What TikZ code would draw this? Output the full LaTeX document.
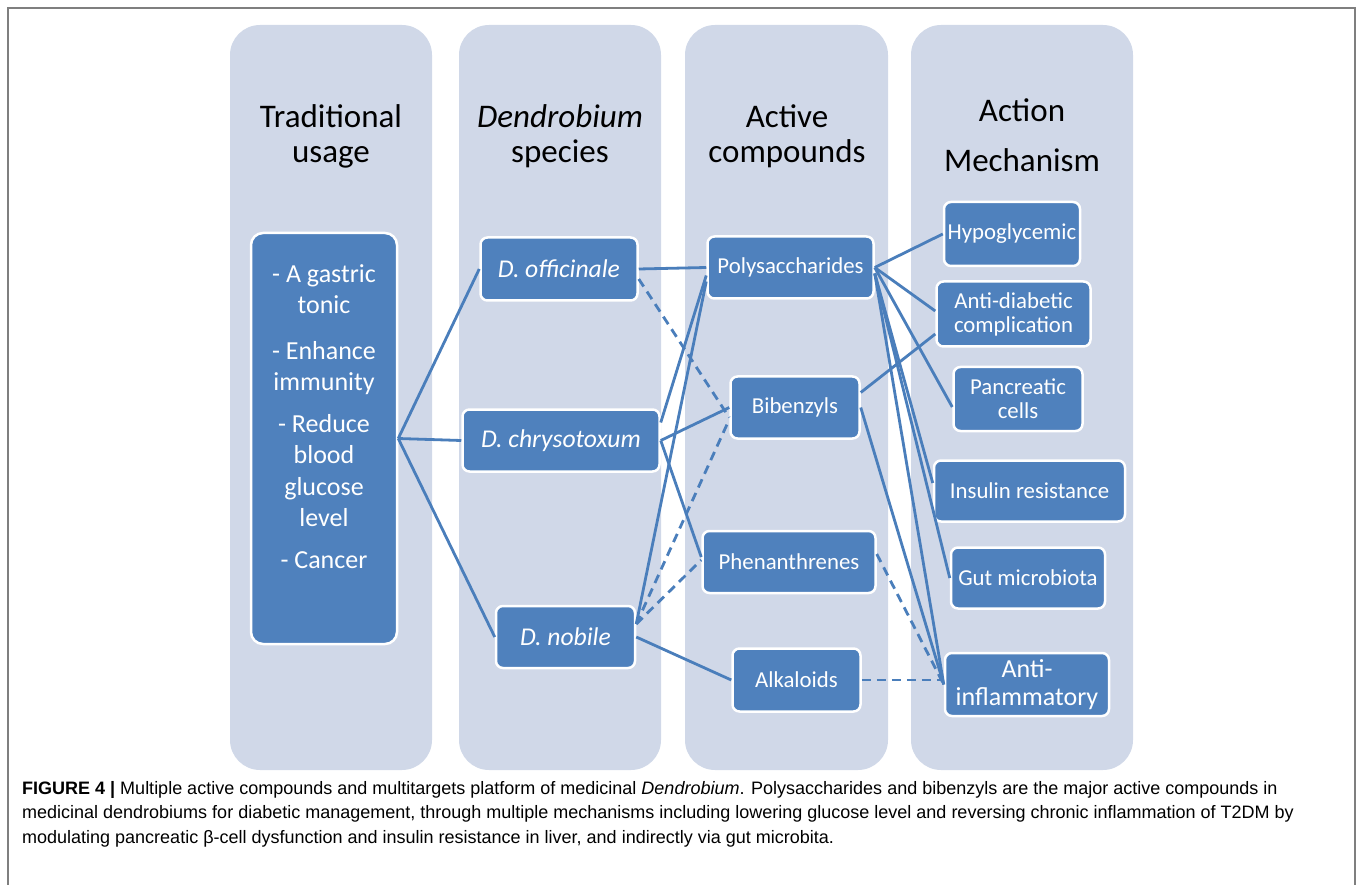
\documentclass[tikz,border=0pt]{standalone}
\usepackage{fontspec}
\setmainfont{Carlito}
\newfontfamily\capfont{Liberation Sans}
\usetikzlibrary{positioning}
\definecolor{lanegray}{HTML}{D0D8E8}
\definecolor{boxblue}{HTML}{4F81BD}
\definecolor{linkblue}{HTML}{4A7EBB}
\definecolor{framegray}{HTML}{7F7F7F}

\begin{document}
\begin{tikzpicture}[x=1pt, y=-1pt,
  lane/.style={fill=lanegray, rounded corners=30pt},
  head/.style={font=\fontsize{33}{36}\selectfont, anchor=base, inner sep=0pt},
  blk/.style={fill=boxblue, draw=white, line width=2.5pt, rounded corners=7pt,
    text=white, align=center, inner sep=0pt, font=\fontsize{22.8}{24}\selectfont},
  spc/.style={blk, font=\fontsize{25.6}{27}\selectfont\itshape},
  link/.style={draw=linkblue, line width=2.8pt},
  dlink/.style={link, dash pattern=on 9pt off 6pt}]
  \useasboundingbox (0,0) rectangle (1358,885);
  % frame and the four lanes
  \draw[framegray, line width=1.5pt] (8,8) rectangle (1355,895);
  \fill[lane] (230,25) rectangle (432,770);
  \fill[lane] (459,25) rectangle (661,770);
  \fill[lane] (685,25) rectangle (888,770);
  \fill[lane] (911,25) rectangle (1133,770);

  % lane headings
  \node[head] (tu1) at (331,128) {Traditional};
  \node[head] (tu2) at (331,163) {usage};
  \node[head] (ds1) at (560,128) {\textit{Dendrobium}};
  \node[head] (ds2) at (560,163) {species};
  \node[head] (ac1) at (787,128) {Active};
  \node[head] (ac2) at (787,163) {compounds};
  \node[head] (am1) at (1022,122) {Action};
  \node[head] (am2) at (1022,172) {Mechanism};

  % traditional usage (base = last line)
  \node[blk, rounded corners=12pt, minimum width=146pt, minimum height=411pt] (usage) at (324,438.5) {};
  \node[font=\fontsize{26}{31.5}\selectfont, text=white, align=center, anchor=base, inner sep=0pt]
    (usetxt) at (324,568) {- A gastric\\tonic\\[14pt]- Enhance\\immunity\\[10pt]- Reduce\\blood\\glucose\\level\\[10pt]- Cancer};

  % species
  \node[spc, minimum width=157pt, minimum height=63pt] (off) at (559,269) {D. officinale};
  \node[spc, minimum width=197pt, minimum height=62pt] (chry) at (561,440.5) {D. chrysotoxum};
  \node[spc, minimum width=139pt, minimum height=62pt] (nob) at (565.5,637) {D. nobile};

  % compounds
  \node[blk, minimum width=166pt, minimum height=62pt] (poly) at (790.5,267.5) {Polysaccharides};
  \node[blk, minimum width=129pt, minimum height=62pt] (bib) at (795,407.5) {Bibenzyls};
  \node[blk, minimum width=173pt, minimum height=62pt] (phen) at (789,562) {Phenanthrenes};
  \node[blk, minimum width=128pt, minimum height=63pt] (alk) at (796.5,680) {Alkaloids};

  % mechanisms
  \node[blk, minimum width=136pt, minimum height=64pt] (hypo) at (1012,234) {Hypoglycemic};
  \node[blk, minimum width=154pt, minimum height=65pt] (antid) at (1013.5,314) {Anti-diabetic\\complication};
  \node[blk, minimum width=129pt, minimum height=64pt] (panc) at (1018,399) {Pancreatic\\cells};
  \node[blk, minimum width=191pt, minimum height=61pt] (ins) at (1029.5,491) {Insulin resistance};
  \node[blk, minimum width=154pt, minimum height=61pt] (gut) at (1028,578) {Gut microbiota};
  \node[blk, minimum width=164pt, minimum height=63pt, font=\fontsize{26}{28}\selectfont] (antii) at (1027,684.5) {Anti-\\inflammatory};

  % usage to species
  \draw[link] (usage.east) -- (off.west);
  \draw[link] (usage.east) -- (chry.west);
  \draw[link] (usage.east) -- (nob.west);

  % species to compounds
  \draw[link] (off.east) -- (poly.west);
  \draw[dlink] ([yshift=-10pt]off.east) -- ([yshift=-10pt]bib.west);
  \draw[link] ([yshift=18pt]chry.east) -- ([yshift=-8pt]poly.west);
  \draw[link] (chry.east) -- (bib.west);
  \draw[link] (chry.east) -- ([yshift=5pt]phen.west);
  \coordinate (nobhub) at ([yshift=13pt]nob.east);
  \draw[link] (nobhub) -- ([yshift=-14pt]poly.west);
  \draw[dlink] (nobhub) -- ([yshift=-12pt]bib.west);
  \draw[dlink] (nobhub) -- ([yshift=2pt]phen.west);
  \draw[link] (nob.east) -- (alk.west);

  % compounds to mechanisms
  \draw[link] (poly.east) -- (hypo.west);
  \draw[link] (poly.east) -- ([yshift=3pt]antid.west);
  \draw[link] (poly.east) -- ([yshift=-8pt]panc.west);
  \coordinate (polylow) at ([yshift=-6pt]poly.east);
  \draw[link] (polylow) -- ([yshift=8pt]ins.west);
  \draw[link] (polylow) -- (gut.west);
  \draw[link] (polylow) -- (antii.west);
  \draw[link] ([yshift=15pt]bib.east) -- ([yshift=-20pt]antid.west);
  \draw[link] (bib.east) -- (antii.west);
  \draw[dlink] ([yshift=8pt]phen.east) -- (antii.west);
  \draw[dlink] (alk.east) -- (antii.west |- alk.east);

  % caption (base = last line)
  \node[anchor=base west, align=left, inner sep=0pt, font=\capfont\fontsize{18}{24.5}\selectfont] (cap) at (22,843)
    {\textbf{FIGURE 4 |} Multiple active compounds and multitargets platform of medicinal \textit{Dendrobium}. Polysaccharides and bibenzyls are the major active compounds in\\
     medicinal dendrobiums for diabetic management, through multiple mechanisms including lowering glucose level and reversing chronic inflammation of T2DM by\\
     modulating pancreatic β-cell dysfunction and insulin resistance in liver, and indirectly via gut microbita.};
\end{tikzpicture}
\end{document}
